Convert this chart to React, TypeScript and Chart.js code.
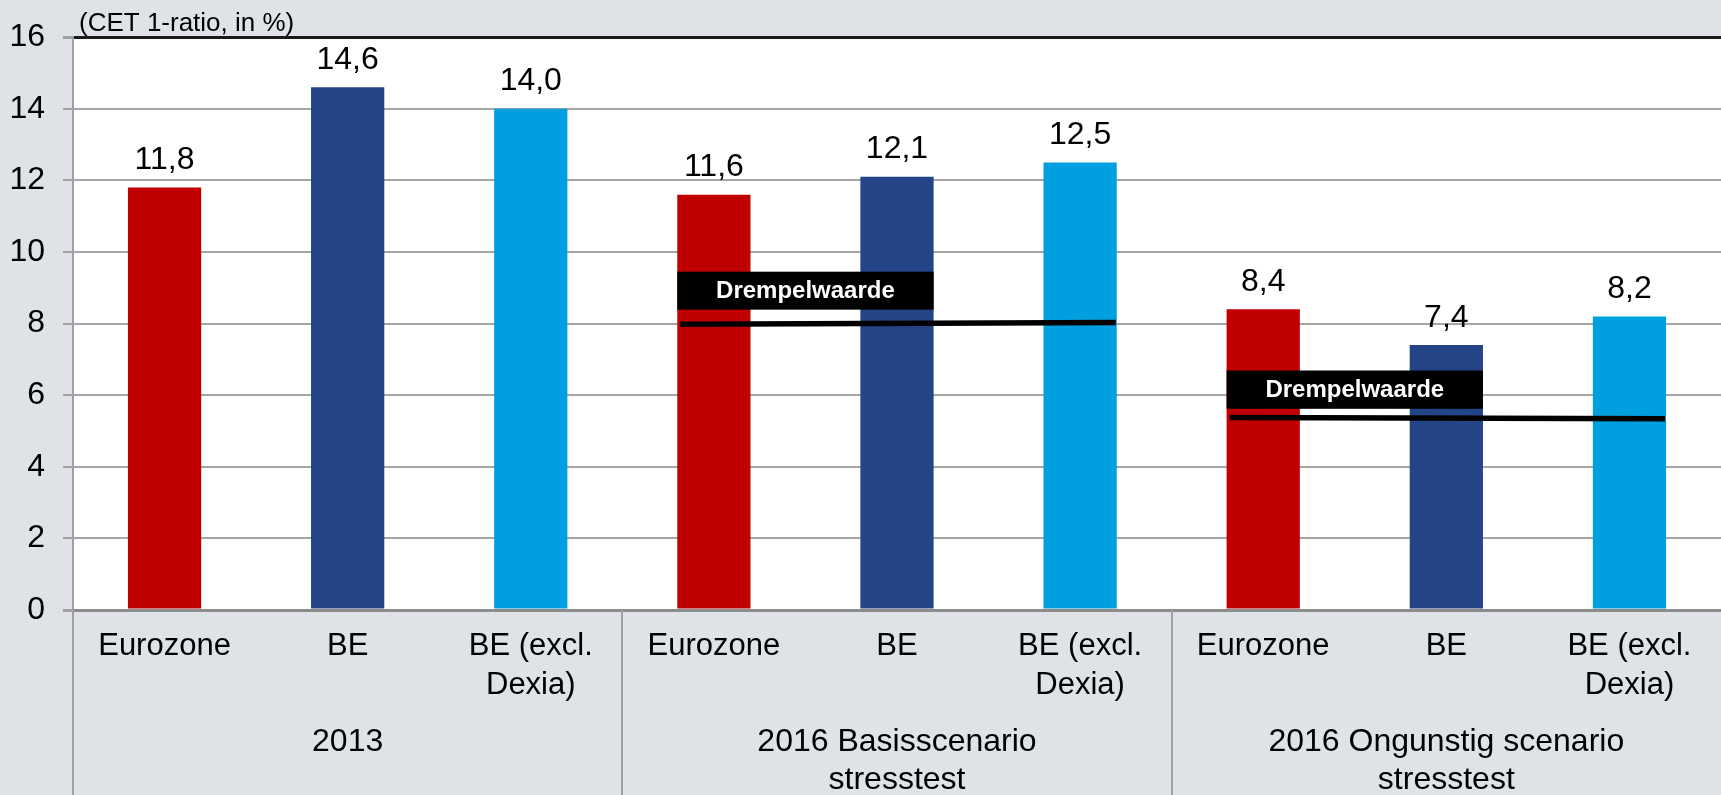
import { useEffect, useRef } from "react";
import { Chart, registerables } from "chart.js";

Chart.register(...registerables);

const categories: (string | string[])[] = [
  "Eurozone", "BE", ["BE (excl.", "Dexia)"],
  "Eurozone", "BE", ["BE (excl.", "Dexia)"],
  "Eurozone", "BE", ["BE (excl.", "Dexia)"],
];
const groupLabels: string[][] = [
  ["2013"],
  ["2016 Basisscenario", "stresstest"],
  ["2016 Ongunstig scenario", "stresstest"],
];
const groupSize = 3;
const values = [11.8, 14.6, 14.0, 11.6, 12.1, 12.5, 8.4, 7.4, 8.2];
const barColors = [
  "#C00000", "#234587", "#009FDF",
  "#C00000", "#234587", "#009FDF",
  "#C00000", "#234587", "#009FDF",
];
const yMin = 0;
const yMax = 16;
const yStep = 2;
const axisTitle = "(CET 1-ratio, in %)";

// threshold ("Drempelwaarde") markers
const thresholdLabel = "Drempelwaarde";
const thresholdFromBar = [3, 6];
const thresholdToBar = [5, 8];
const thresholdStartValue = [7.98, 5.38];
const thresholdEndValue = [8.03, 5.34];
const labelBoxToBar = [4, 7];
const labelBoxTopValue = [9.45, 6.69];
const labelBoxBottomValue = [8.39, 5.62];

const FONT = "'Liberation Sans', Arial, Helvetica, sans-serif";

const fmt = (v: number) => v.toFixed(1).replace(".", ",");

const overlayPlugin = {
  id: "overlay",
  beforeDraw(chart: any) {
    const { ctx, chartArea } = chart;
    ctx.save();
    ctx.fillStyle = "#ffffff";
    ctx.fillRect(chartArea.left, chartArea.top, chartArea.right - chartArea.left, chartArea.bottom - chartArea.top);
    ctx.restore();
  },
  afterDatasetsDraw(chart: any) {
    const { ctx } = chart;
    const y = chart.scales.y;
    const bars = chart.getDatasetMeta(0).data;
    ctx.save();
    // data labels
    ctx.fillStyle = "#000000";
    ctx.font = `32px ${FONT}`;
    ctx.textAlign = "center";
    ctx.textBaseline = "alphabetic";
    values.forEach((v, i) => {
      const b = bars[i];
      ctx.fillText(fmt(v), b.x, b.y - 18.5);
    });
    // thresholds
    for (let k = 0; k < thresholdFromBar.length; k++) {
      const bl = bars[thresholdFromBar[k]];
      const br = bars[thresholdToBar[k]];
      const bb = bars[labelBoxToBar[k]];
      const x1 = bl.x - bl.width / 2;
      const x2 = br.x + br.width / 2;
      ctx.strokeStyle = "#000000";
      ctx.lineWidth = 5.5;
      ctx.lineCap = "butt";
      ctx.beginPath();
      ctx.moveTo(x1 + 3, y.getPixelForValue(thresholdStartValue[k]));
      ctx.lineTo(x2 - 1, y.getPixelForValue(thresholdEndValue[k]));
      ctx.stroke();
      const bx2 = bb.x + bb.width / 2;
      const top = y.getPixelForValue(labelBoxTopValue[k]);
      const bot = y.getPixelForValue(labelBoxBottomValue[k]);
      ctx.fillStyle = "#000000";
      ctx.fillRect(x1, top, bx2 - x1, bot - top);
      ctx.fillStyle = "#ffffff";
      ctx.font = `bold 24px ${FONT}`;
      ctx.textAlign = "center";
      ctx.textBaseline = "middle";
      ctx.fillText(thresholdLabel, (x1 + bx2) / 2, (top + bot) / 2 + 1);
    }
    ctx.restore();
  },
  afterDraw(chart: any) {
    const { ctx, chartArea } = chart;
    const x = chart.scales.x;
    ctx.save();
    // separators
    ctx.strokeStyle = "#a0a0a0";
    ctx.lineWidth = 2;
    ctx.beginPath();
    ctx.moveTo(chartArea.left, x.top);
    ctx.lineTo(chartArea.left, x.bottom);
    for (let g = 1; g < groupLabels.length; g++) {
      const px = Math.round(x.getPixelForValue(g * groupSize - 0.5));
      ctx.moveTo(px, x.top);
      ctx.lineTo(px, x.bottom);
    }
    ctx.stroke();
    // group labels
    ctx.fillStyle = "#000000";
    ctx.font = `32px ${FONT}`;
    ctx.textAlign = "center";
    ctx.textBaseline = "middle";
    groupLabels.forEach((lines, g) => {
      const cx = x.getPixelForValue(g * groupSize + (groupSize - 1) / 2);
      lines.forEach((line, li) => {
        ctx.fillText(line, cx, x.top + 132 + li * 38);
      });
    });
    // axis title
    ctx.font = `26px ${FONT}`;
    ctx.textAlign = "left";
    ctx.textBaseline = "alphabetic";
    ctx.fillText(axisTitle, chartArea.left + 6, 31);
    ctx.restore();
  },
};

export default function App() {
  const ref = useRef<HTMLCanvasElement | null>(null);
  useEffect(() => {
    if (!ref.current) return;
    const chart = new Chart(ref.current, {
      type: "bar",
      data: {
        labels: categories,
        datasets: [
          {
            data: values,
            backgroundColor: barColors,
            borderWidth: 0,
            barPercentage: 0.4,
            categoryPercentage: 1,
          },
        ],
      },
      options: {
        animation: false,
        responsive: false,
        events: [],
        layout: { padding: { top: 37, left: 0, right: 0, bottom: 0 } },
        plugins: { legend: { display: false }, tooltip: { enabled: false }, title: { display: false } },
        scales: {
          x: {
            type: "category",
            offset: true,
            grid: { display: false, drawTicks: false },
            border: { display: false },
            ticks: {
              autoSkip: false,
              maxRotation: 0,
              minRotation: 0,
              padding: 17,
              color: "#000000",
              font: { family: FONT, size: 31, lineHeight: "39px" },
            },
            afterFit: (s: any) => {
              s.height = 185;
            },
          },
          y: {
            min: yMin,
            max: yMax,
            ticks: {
              stepSize: yStep,
              padding: 18,
              color: "#000000",
              font: { family: FONT, size: 32 },
              callback: (v: any) => String(v),
            },
            grid: {
              color: (c: any) => (c.tick && c.tick.value === yMax ? "#1a1a1a" : c.tick && c.tick.value === yMin ? "#8c8c8c" : "#a6a6a6"),
              lineWidth: (c: any) => (c.tick && (c.tick.value === yMax || c.tick.value === yMin) ? 3 : 2),
              tickColor: "#a0a0a0",
              tickLength: 10,
              drawTicks: true,
            },
            border: { color: "#a0a0a0", width: 2 },
            afterFit: (s: any) => {
              s.width = 73;
            },
          },
        },
      },
      plugins: [overlayPlugin],
    });
    return () => chart.destroy();
  }, []);
  return (
    <div style={{ position: "fixed", left: 0, top: 0, width: 1721, height: 795, background: "#dfe3e8" }}>
      <canvas ref={ref} width={1721} height={795} style={{ display: "block", width: 1721, height: 795 }} />
    </div>
  );
}
